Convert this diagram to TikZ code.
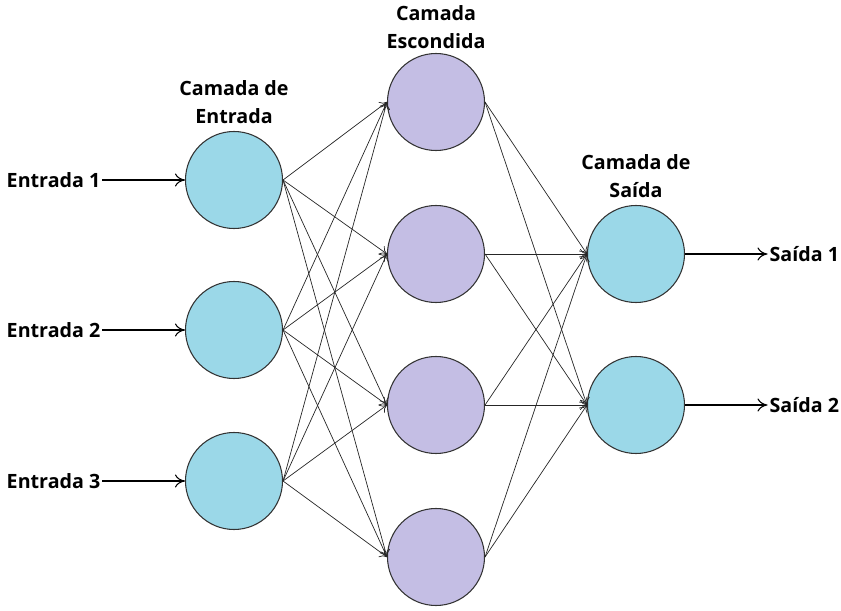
\documentclass[tikz,border=0pt]{standalone}
\usepackage{fontspec}
\setsansfont{Open Sans}
\usetikzlibrary{positioning, arrows.meta}
\definecolor{unitblue}{RGB}{155,216,232}
\definecolor{unitlilac}{RGB}{196,190,228}

\begin{document}
\begin{tikzpicture}[
      neuron/.style={circle, draw=black!80, line width=0.6pt, minimum size=19.4mm, inner sep=0pt},
      io neuron/.style={neuron, fill=unitblue},
      hid neuron/.style={neuron, fill=unitlilac},
      % bold captions
      layer label/.style={font=\sffamily\bfseries\fontsize{11.2}{16}\selectfont, align=center, inner sep=1pt},
      io label/.style={font=\sffamily\bfseries\fontsize{11.2}{16}\selectfont, inner sep=1pt},
      link/.style={-{To[length=1.4mm, width=2mm]}, black!85, line width=0.4pt},
      feed/.style={-{To[length=2mm, width=2.6mm]}, line width=0.6pt}
    ]
    \useasboundingbox (0,0) rectangle (16.82,12.2);

    % ---- input layer ----
    \foreach \i/\y in {1/8.6, 2/5.6, 3/2.58} {
      \node[io neuron] (in\i) at (4.68,\y) {};
      \node[io label, left=1.65cm of in\i] (x\i) {Entrada \i};
      \draw[feed] (x\i) -- (in\i);
    }
    \node[layer label, above=0.1cm of in1] (inlbl) {Camada de\\Entrada};

    % ---- hidden layer ----
    \foreach \j/\y in {1/10.16, 2/7.12, 3/4.1, 4/1.06} {
      \node[hid neuron] (h\j) at (8.72,\y) {};
    }
    \node[layer label, above=0.05cm of h1] (hidlbl) {Camada\\Escondida};

    % ---- output layer ----
    \foreach \k/\y in {1/7.12, 2/4.1} {
      \node[io neuron] (out\k) at (12.72,\y) {};
      \node[io label, right=1.65cm of out\k] (y\k) {Saída \k};
      \draw[feed] (out\k) -- (y\k);
    }
    \node[layer label, above=0.1cm of out1] (outlbl) {Camada de\\Saída};

    % ---- connections ----
    \foreach \i in {1,2,3} {
      \foreach \j in {1,2,3,4} {
        \draw[link] (in\i.east) -- (h\j.west);
      }
    }
    \foreach \j in {1,2,3,4} {
      \foreach \k in {1,2} {
        \draw[link] (h\j.east) -- (out\k.west);
      }
    }

  \end{tikzpicture}
\end{document}
